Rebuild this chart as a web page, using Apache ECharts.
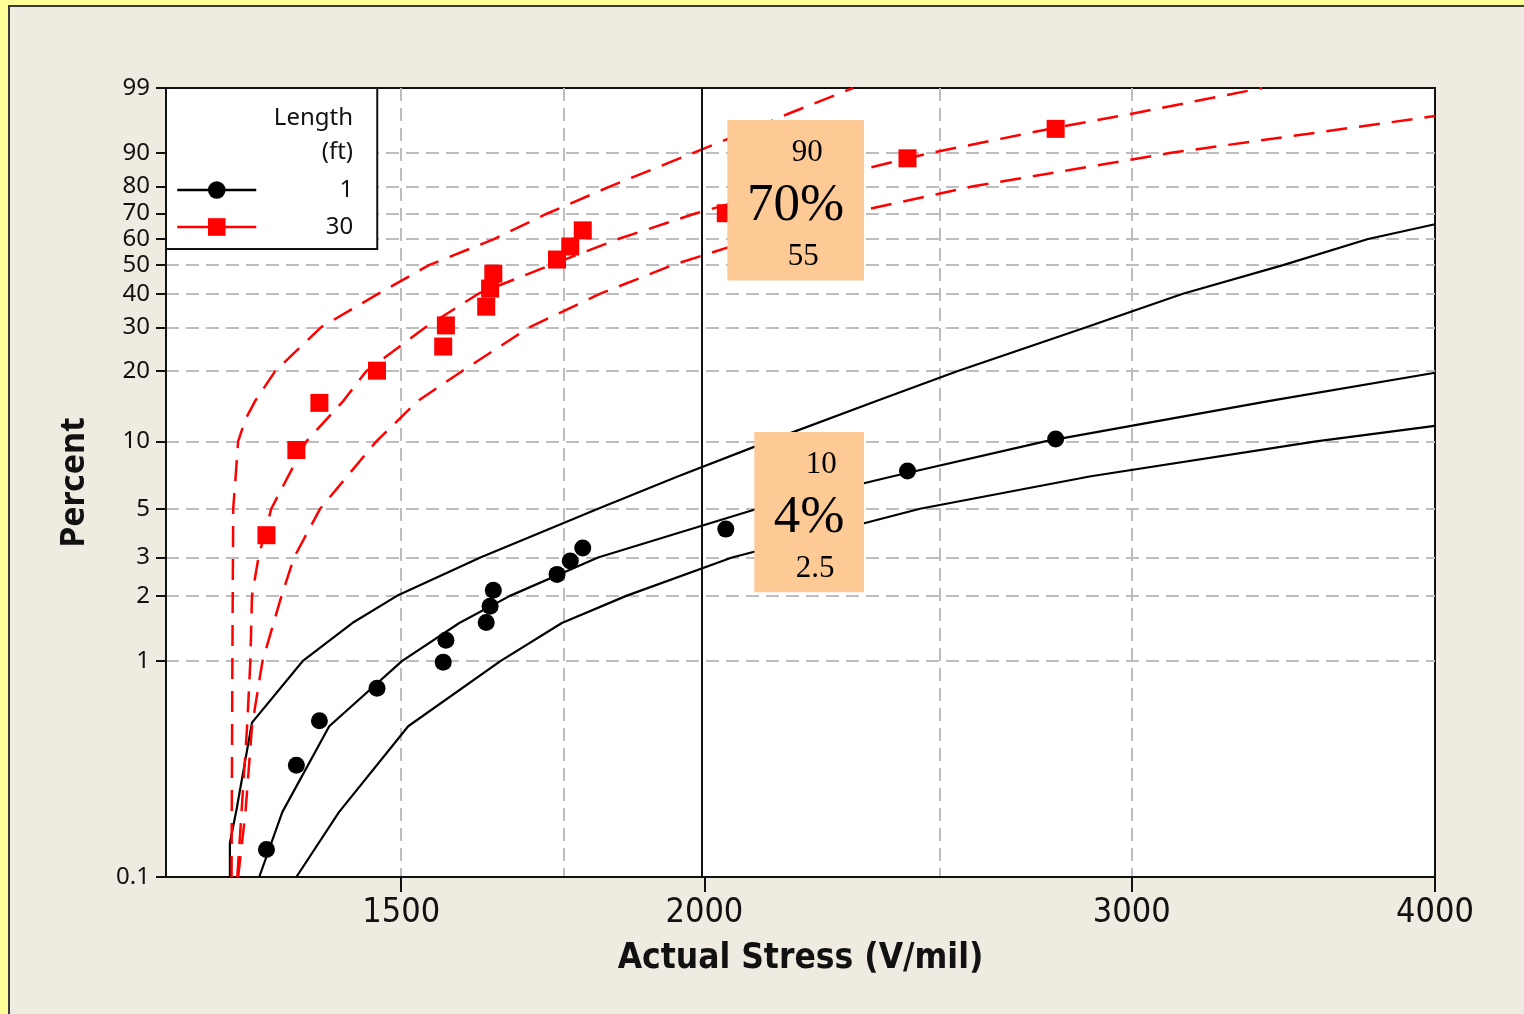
<!DOCTYPE html>
<html><head><meta charset="utf-8">
<script src="https://cdn.jsdelivr.net/npm/echarts@6/dist/echarts.min.js"></script>
<style>
html,body{margin:0;padding:0;width:1524px;height:1014px;overflow:hidden;background:#FFFF99;}
#panel{position:absolute;left:8px;top:5px;width:1600px;height:1100px;background:#EFEBE0;border-left:2px solid #3a3a3a;border-top:2px solid #3a3a3a;}
#chart{position:absolute;left:0;top:0;width:1524px;height:1014px;}
</style></head><body><div id="panel"></div><div id="chart"></div>
<script>
// ---- data (V/mil, percent) ----
const pointStress = [1320,1358,1388,1466,1561,1565,1626,1632,1637,1739,1761,1782,2041,2425,2791];
const pct1ft  = [0.134,0.33,0.53,0.75,0.99,1.25,1.51,1.79,2.12,2.51,2.89,3.31,4.04,7.39,10.25];
const pct30ft = [3.79,9.16,14.7,20.1,25.2,30.5,35.9,41.7,46.9,52.1,57.1,63.4,70.1,88.6,94.9];

const fit1Stress = [1311,1340,1401,1501,1585,1663,1808,2103,2392,2763,3420,4000];
const fit1Pct    = [0.1,0.2,0.5,1,1.5,2,3,5,7,10,15,19.7];
const ciLeft1Stress = [1275,1275,1283,1302,1366,1432,1494,1617,1808,1951,2125,2356,2542,2873,3149,3463,3754,4000];
const ciLeft1Pct    = [0.1,0.144,0.205,0.52,1,1.5,2,3,5,7,10,15,20,30,40,50,60,65.8];
const ciRight1Stress = [1358,1414,1510,1648,1747,1857,2053,2454,2886,3573,4000];
const ciRight1Pct    = [0.1,0.2,0.5,1,1.5,2,3,5,7,10,11.7];

const fit30Stress = [1284,1296,1300,1302,1310,1326,1371,1420,1451,1535,1614,1728,1843,1983,2172,2480,2784,3004,3395];
const fit30Pct    = [0.1,0.5,1,2,3,5,10,15,20,30,40,50,60,70,80,90,95,97,99];
const ciLeft30Stress = [1277,1278,1279,1282,1285,1294,1306,1331,1390,1468,1540,1638,1723,1829,1979,2097,2167,2303];
const ciLeft30Pct    = [0.1,1,5,7,10,12.5,15,20,30,40,50,60,70,80,90,95,97,99];
const ciRight30Stress = [1285,1294,1302,1315,1339,1355,1389,1465,1524,1589,1694,1812,1940,2097,2292,2581,3114,3683,4000];
const ciRight30Pct    = [0.1,0.2,0.5,1,2,3,5,10,15,20,30,40,50,60,70,80,90,95,96.7];

const yTickPct = [0.1,1,2,3,5,10,20,30,40,50,60,70,80,90,99];
const xTickLabels = [1500,2000,3000,4000];
const xGridStress = [1250,1500,1750,2500,3000,3500];
const xRange = [1200,4000];
const yRange = [0.1,99];
const refStress = 2000;

const annoStress = [[2044,2327],[2097,2327]];
const annoPct    = [[96.2,44.5],[11.0,2.08]];
const annoText   = [['90','70%','55'],['10','4%','2.5']];

// ---- scales: log stress, Weibull probability ----
const tx = v => Math.log10(v);
const ty = p => Math.log(-Math.log(1 - p / 100));
const pts = (xs, ps) => xs.map((s, i) => [tx(s), ty(ps[i])]);

const narrow = '"Liberation Sans Narrow","DejaVu Sans Condensed","Roboto Condensed","Arial Narrow",Roboto,sans-serif';
const sans = '"Noto Sans","Open Sans",sans-serif';
const serif = '"Liberation Serif","DejaVu Serif",serif';
const gridLine = {color:'#bdbdbd', width:2, type:[13,7]};

function curve(name, xs, ps, color, dashed) {
  return {type:'line', name, data:pts(xs, ps), symbol:'none', silent:true, z:2,
    lineStyle:{color, width: dashed ? 2.5 : 2.2, type: dashed ? [21,12] : 'solid'}, animation:false};
}

const annoPad = [[23,0,15],[24,0,12]];
const markAreaData = annoStress.map((xs, i) => {
  const r = {};
  r['s'+i] = {fontFamily:serif, fontSize:31, lineHeight:52, color:'#000', padding:[0,0,0,annoPad[i][0]]};
  r['b'+i] = {fontFamily:serif, fontSize:53, lineHeight:54, color:'#000', padding:[0,0,0,annoPad[i][1]]};
  r['t'+i] = {fontFamily:serif, fontSize:31, lineHeight:48, color:'#000', padding:[0,0,0,annoPad[i][2]]};
  const t = annoText[i];
  return [
    {coord:[tx(xs[0]), ty(annoPct[i][0])],
     label:{show:true, position:'inside', offset:[0,4],
       formatter:`{s${i}|${t[0]}}\n{b${i}|${t[1]}}\n{t${i}|${t[2]}}`, rich:r}},
    {coord:[tx(xs[1]), ty(annoPct[i][1])]}
  ];
});

const chart = echarts.init(document.getElementById('chart'));
chart.setOption({
  animation:false,
  backgroundColor:'transparent',
  title:{text:'Length\n(ft)', left:353, top:101, textAlign:'right', padding:0,
    textStyle:{fontFamily:sans, fontSize:24, fontWeight:'normal', color:'#111', lineHeight:34}},
  legend:{data:['1','30'], orient:'vertical', left:166, top:88, padding:[90,24,10,10],
    itemWidth:79, itemHeight:22, itemGap:13, backgroundColor:'#fff', borderColor:'#111', borderWidth:2,
    selectedMode:false, formatter:'{v|{name}}',
    lineStyle:{width:2.5, opacity:1},
    textStyle:{fontFamily:sans, fontSize:24, color:'#111',
      rich:{v:{width:92, align:'right', fontFamily:sans, fontSize:24, color:'#111'}}}},
  grid:{left:166, top:88, right:89, bottom:137, show:true, backgroundColor:'#fff', borderColor:'#111', borderWidth:2},
  xAxis:[{
    type:'value', min:tx(xRange[0]), max:tx(xRange[1]), position:'bottom',
    axisLine:{show:true, onZero:false, lineStyle:{color:'#111', width:2}},
    axisTick:{show:true, customValues:xTickLabels.map(tx), length:15, lineStyle:{color:'#111', width:2}},
    axisLabel:{customValues:xTickLabels.map(tx), formatter:v => String(Math.round(Math.pow(10, v))),
      fontFamily:narrow, fontSize:34, color:'#111', margin:19},
    splitLine:{show:false},
    name:'Actual Stress (V/mil)', nameLocation:'middle', nameGap:64,
    nameTextStyle:{fontFamily:narrow, fontSize:35, fontWeight:'bold', color:'#111'}
  },{
    type:'value', min:tx(xRange[0]), max:tx(xRange[1]), position:'bottom',
    axisLine:{show:false, onZero:false}, axisTick:{show:false, customValues:xGridStress.map(tx)},
    axisLabel:{show:false},
    splitLine:{show:true, showMinLine:false, showMaxLine:false, lineStyle:gridLine}
  }],
  yAxis:{
    type:'value', min:ty(yRange[0]), max:ty(yRange[1]),
    axisLine:{show:true, onZero:false, lineStyle:{color:'#111', width:2}},
    axisTick:{show:true, customValues:yTickPct.map(ty), length:10, lineStyle:{color:'#111', width:2}},
    axisLabel:{customValues:yTickPct.map(ty), formatter:v => String(+(100*(1-Math.exp(-Math.exp(v)))).toFixed(1)),
      fontFamily:sans, fontSize:24, color:'#111', margin:16},
    splitLine:{show:true, showMinLine:false, showMaxLine:false, lineStyle:gridLine},
    name:'Percent', nameLocation:'middle', nameGap:75, nameRotate:90,
    nameTextStyle:{fontFamily:sans, fontSize:34, fontWeight:'bold', color:'#111'}
  },
  series:[
    curve('fit1', fit1Stress, fit1Pct, '#000', false),
    curve('ciLeft1', ciLeft1Stress, ciLeft1Pct, '#000', false),
    curve('ciRight1', ciRight1Stress, ciRight1Pct, '#000', false),
    curve('fit30', fit30Stress, fit30Pct, '#ff0000', true),
    curve('ciLeft30', ciLeft30Stress, ciLeft30Pct, '#ff0000', true),
    curve('ciRight30', ciRight30Stress, ciRight30Pct, '#ff0000', true),
    {type:'line', name:'1', data:pts(pointStress, pct1ft), symbol:'circle', symbolSize:17, z:3,
      color:'#000', itemStyle:{color:'#000'}, lineStyle:{color:'#000', opacity:0}},
    {type:'line', name:'30', data:pts(pointStress, pct30ft), symbol:'rect', symbolSize:18, z:3,
      color:'#ff0000', itemStyle:{color:'#ff0000'}, lineStyle:{color:'#ff0000', opacity:0}},
    {type:'line', name:'annotations', data:[], z:10, silent:true,
      markLine:{silent:true, symbol:['none','none'], z:3, label:{show:false},
        lineStyle:{color:'#111', width:2, type:'solid'}, data:[{xAxis:tx(refStress)}]},
      markArea:{silent:true, z:10, itemStyle:{color:'#FDCA96', opacity:1, borderWidth:0}, data:markAreaData}}
  ]
});
</script></body></html>
